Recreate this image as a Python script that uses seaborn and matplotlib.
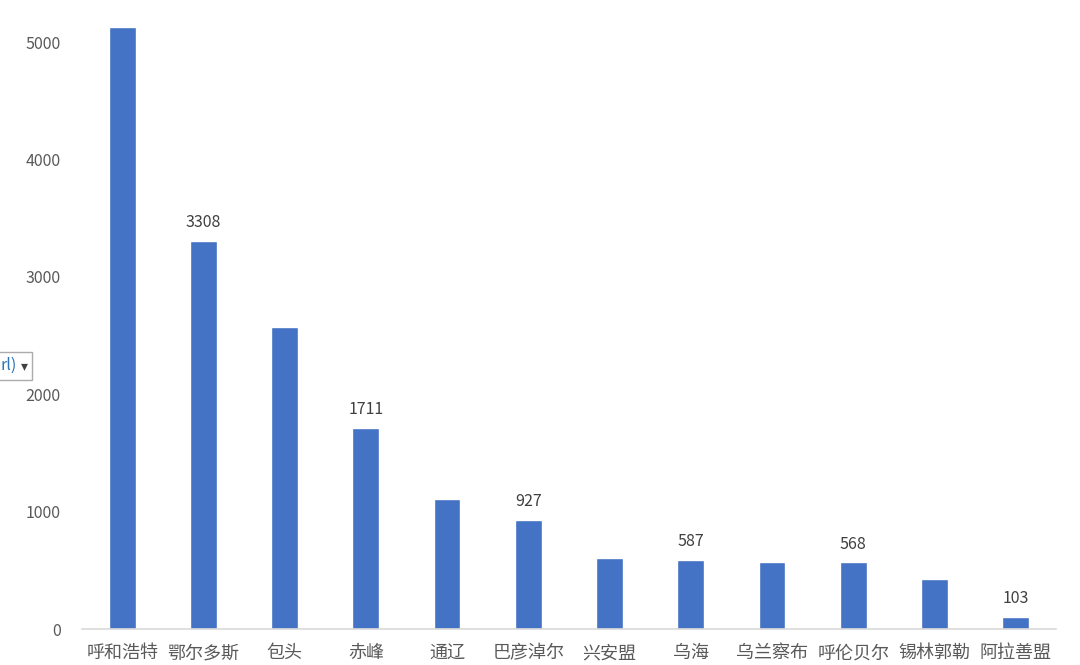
import matplotlib
matplotlib.use("Agg")
import matplotlib.pyplot as plt
import seaborn as sns
import pandas as pd
from matplotlib.patches import Rectangle

# data
cities = ['呼和浩特', '鄂尔多斯', '包头', '赤峰', '通辽', '巴彦淖尔',
          '兴安盟', '乌海', '乌兰察布', '呼伦贝尔', '锡林郭勒', '阿拉善盟']
values = [5128, 3308, 2575, 1711, 1107, 927, 603, 587, 568, 568, 427, 103]
labelled = ['鄂尔多斯', '赤峰', '巴彦淖尔', '乌海', '呼伦贝尔', '阿拉善盟']
y_ticks = [0, 1000, 2000, 3000, 4000, 5000]

df = pd.DataFrame({'city': cities, 'value': values})

sns.set_theme(style="white")
plt.rcParams['font.family'] = ['Noto Sans CJK SC', 'DejaVu Sans']

fig = plt.figure(figsize=(10.8, 6.65), dpi=100)
ax = fig.add_axes([0.0755, 0.0541, 0.9025, 0.9459])

sns.barplot(data=df, x='city', y='value', color='#4472C4', width=0.33,
            saturation=1, ax=ax)

ax.set_ylim(0, 5358)
ax.set_xlim(-0.5, len(cities) - 0.5)
ax.set_yticks(y_ticks)
ax.set_xlabel('')
ax.set_ylabel('')

for side in ['top', 'right', 'left']:
    ax.spines[side].set_visible(False)
ax.spines['bottom'].set_color('#D9D9D9')
ax.spines['bottom'].set_linewidth(1.2)
ax.tick_params(axis='y', length=0, pad=15, labelsize=11.5, labelcolor='#595959')
ax.tick_params(axis='x', length=0, pad=11, labelsize=13, labelcolor='#595959')

# data labels only on some bars
bar_labels = [str(v) if c in labelled else '' for c, v in zip(cities, values)]
ax.bar_label(ax.containers[0], labels=bar_labels, padding=7,
             fontsize=11.5, color='#404040')

# leftover filter dropdown at the left edge
fig.patches.append(Rectangle((-0.01, 0.429), 0.04, 0.042, transform=fig.transFigure,
                             facecolor='white', edgecolor='#ABABAB', linewidth=1))
fig.text(0.0, 0.45, 'rl)', color='#2E75B6', fontsize=11.5, va='center', ha='left')
fig.text(0.0195, 0.45, '▾', color='#404040', fontsize=10, va='center', ha='left',
         family=['DejaVu Sans'])

fig.savefig('out.png', dpi=100)
